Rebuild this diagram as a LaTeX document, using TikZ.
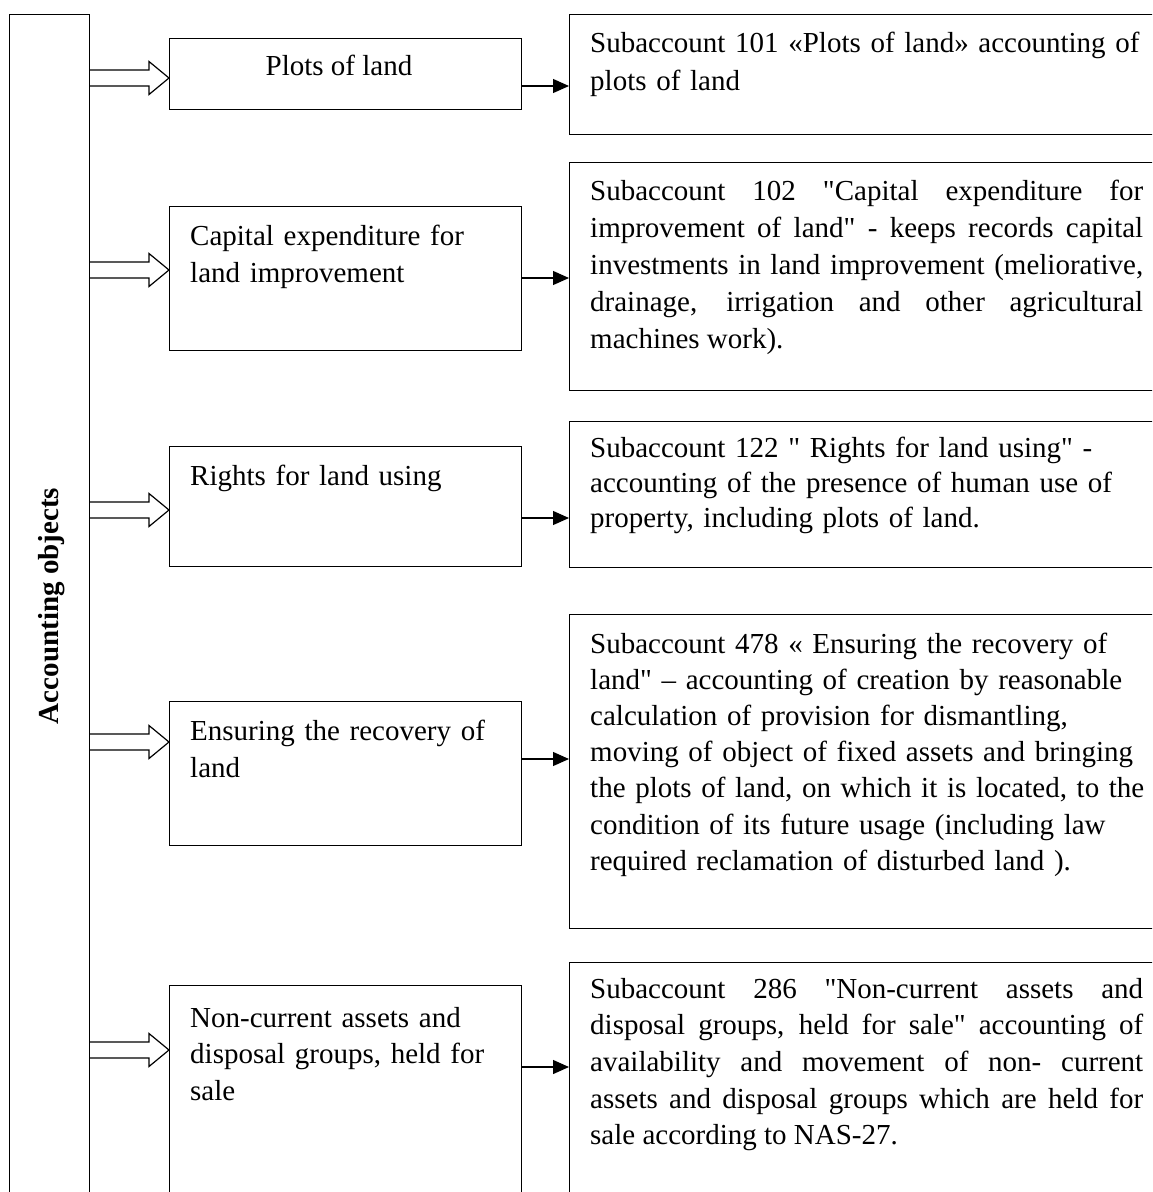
\documentclass[tikz,border=0pt]{standalone}
\usepackage{fontspec}
\setmainfont{Liberation Serif}[Ligatures=TeXOff]
\usetikzlibrary{arrows.meta}
\hyphenpenalty=10000
\exhyphenpenalty=10000
\begin{document}
\begin{tikzpicture}[x=1pt,y=-1pt,
  box/.style={draw, line width=1.2pt, rectangle, inner sep=0pt, anchor=north west},
  txt/.style={inner sep=0pt, anchor=base west},
  mtxt/.style={txt, text width=330pt, align=left},
  rtxt/.style={txt, text width=575pt, align=left},
  jtxt/.style={txt, text width=553pt, align=justify},
  arr/.style={line width=1.2pt, -{Triangle[length=16pt,width=14pt]}},
  hol/.style={line width=1.2pt, line join=miter}]
\useasboundingbox (0,0) rectangle (1152,1192);
\clip (0,0) rectangle (1152,1192);

% left bar
\node[box, minimum width=80pt, minimum height=1200pt] (bar) at (9,14) {};
\node[rotate=90, anchor=base, inner sep=0pt, font=\fontsize{29}{35}\selectfont\bfseries] (lab) at (58,606) {Accounting objects};

% middle boxes
\node[box, minimum width=352pt, minimum height=71pt]  (m1) at (169,38) {};
\node[box, minimum width=352pt, minimum height=144pt] (m2) at (169,206) {};
\node[box, minimum width=352pt, minimum height=120pt] (m3) at (169,446) {};
\node[box, minimum width=352pt, minimum height=144pt] (m4) at (169,701) {};
\node[box, minimum width=352pt, minimum height=240pt] (m5) at (169,985) {};

% right boxes
\node[box, minimum width=601pt, minimum height=120pt] (r1) at (569,14) {};
\node[box, minimum width=601pt, minimum height=228pt] (r2) at (569,162) {};
\node[box, minimum width=601pt, minimum height=146pt] (r3) at (569,421) {};
\node[box, minimum width=601pt, minimum height=314pt] (r4) at (569,614) {};
\node[box, minimum width=601pt, minimum height=260pt] (r5) at (569,962) {};

% middle texts
\node[inner sep=0pt, anchor=base, font=\fontsize{29}{37}\selectfont] (m1t) at (339,75) {Plots of land};
\node[mtxt, font=\fontsize{29}{37}\selectfont] (m2t) at (190,245) {Capital expenditure for\\land improvement};
\node[mtxt, font=\fontsize{29}{37}\selectfont] (m3t) at (190,485) {Rights for land using};
\node[mtxt, font=\fontsize{29}{37}\selectfont] (m4t) at (190,740) {Ensuring the recovery of\\land};
\node[mtxt, font=\fontsize{29}{36.5}\selectfont] (m5t) at (190,1027) {Non-current assets and\\disposal groups, held for\\sale};

% right texts
\node[rtxt, font=\fontsize{29}{38}\selectfont] (r1t) at (590,52) {Subaccount 101 «Plots of land» accounting of\\plots of land};
\node[jtxt, font=\fontsize{29}{37}\selectfont] (r2t) at (590,200) {Subaccount 102 "Capital expenditure for\linebreak improvement of land" - keeps records capital\linebreak investments in land improvement (meliorative,\linebreak drainage, irrigation and other agricultural\linebreak machines work).};
\node[rtxt, font=\fontsize{29}{35}\selectfont] (r3t) at (590,457) {Subaccount 122 " Rights for land using" -\\accounting of the presence of human use of\\property, including plots of land.};
\node[rtxt, font=\fontsize{29}{36.2}\selectfont] (r4t) at (590,653) {Subaccount 478 « Ensuring the recovery of\\land" – accounting of creation by reasonable\\calculation of provision for dismantling,\\moving of object of fixed assets and bringing\\the plots of land, on which it is located, to the\\condition of its future usage (including law\\required reclamation of disturbed land ).};
\node[jtxt, font=\fontsize{29}{36.7}\selectfont] (r5t) at (590,998) {Subaccount 286 "Non-current assets and\linebreak disposal groups, held for sale" accounting of\linebreak availability and movement of non- current\linebreak assets and disposal groups which are held for\linebreak sale according to NAS-27.};

% hollow arrows from bar to middle boxes
\foreach \yy/\m in {78/m1,270/m2,510/m3,742/m4,1050/m5} {
  \draw[hol] (bar.east |- 0,\yy-8) -- (149,\yy-8) -- (149,\yy-16.5) -- (\m.west |- 0,\yy) -- (149,\yy+16.5) -- (149,\yy+8) -- (bar.east |- 0,\yy+8);
}

% black arrows from middle to right boxes
\draw[arr] (m1.east |- 0,86)   -- (r1.west |- 0,86);
\draw[arr] (m2.east |- 0,278)  -- (r2.west |- 0,278);
\draw[arr] (m3.east |- 0,518)  -- (r3.west |- 0,518);
\draw[arr] (m4.east |- 0,759)  -- (r4.west |- 0,759);
\draw[arr] (m5.east |- 0,1067) -- (r5.west |- 0,1067);
\end{tikzpicture}
\end{document}
